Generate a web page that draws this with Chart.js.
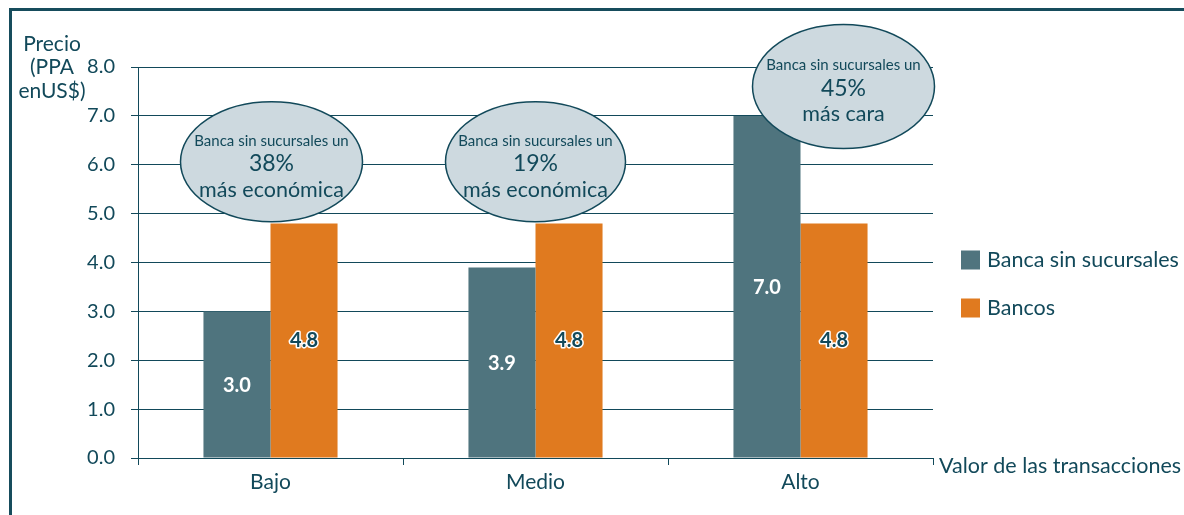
<!DOCTYPE html>
<html>
<head>
<meta charset="utf-8">
<script src="https://cdn.jsdelivr.net/npm/chart.js@4/dist/chart.umd.min.js"></script>
<style>
  html, body { margin: 0; padding: 0; background: #ffffff; }
  #wrap { width: 1184px; height: 515px; position: relative; }
  canvas { display: block; }
</style>
</head>
<body>
<div id="wrap"><canvas id="c" width="1184" height="515"></canvas></div>
<script>
// ---- Data ----
const categories = ["Bajo", "Medio", "Alto"];
const seriesNames = ["Banca sin sucursales", "Bancos"];
const branchlessValues = [3.0, 3.9, 7.0];
const bankValues = [4.8, 4.8, 4.8];
const yTickValues = [0, 1, 2, 3, 4, 5, 6, 7, 8];
const yTitleLines = ["Precio", "(PPA", "enUS$)"];
const xTitle = "Valor de las transacciones";
const calloutHead = ["Banca sin sucursales un", "Banca sin sucursales un", "Banca sin sucursales un"];
const calloutPct = ["38%", "19%", "45%"];
const calloutTail = ["más económica", "más económica", "más cara"];
const calloutAnchorValue = [6.06, 6.06, 7.6];

// ---- Style ----
const DARK = "#12495a";
const TEAL = "#4f747e";
const ORANGE = "#e07a1f";
const FONT = "Lato, 'Open Sans', sans-serif";
const calloutStyle = [
  { dx: 1, rx: 91, ry: 60 },
  { dx: 0, rx: 90, ry: 60 },
  { dx: 43, rx: 91, ry: 62 }
];

const decorPlugin = {
  id: "decor",
  beforeDraw(chart) {
    const ctx = chart.ctx;
    ctx.save();
    ctx.fillStyle = "#ffffff";
    ctx.fillRect(0, 0, chart.width, chart.height);
    ctx.restore();
  },
  afterDatasetsDraw(chart) {
    const ctx = chart.ctx;
    const xs = chart.scales.x, ys = chart.scales.y;
    ctx.save();
    // Callout ellipses
    categories.forEach((c, i) => {
      const st = calloutStyle[i];
      const cx = xs.getPixelForValue(i) + st.dx;
      const cy = ys.getPixelForValue(calloutAnchorValue[i]);
      ctx.beginPath();
      ctx.ellipse(cx, cy, st.rx, st.ry, 0, 0, Math.PI * 2);
      ctx.fillStyle = "#cdd9df";
      ctx.fill();
      ctx.lineWidth = 1.5;
      ctx.strokeStyle = DARK;
      ctx.stroke();
      ctx.fillStyle = DARK;
      ctx.textAlign = "center";
      ctx.textBaseline = "middle";
      ctx.font = "15px " + FONT;
      ctx.fillText(calloutHead[i], cx, cy - 21);
      ctx.font = "23px " + FONT;
      ctx.fillText(calloutPct[i], cx, cy + 2);
      ctx.font = "21.5px " + FONT;
      ctx.fillText(calloutTail[i], cx, cy + 28);
    });
    // Value labels
    chart.data.datasets.forEach((ds, di) => {
      const meta = chart.getDatasetMeta(di);
      meta.data.forEach((bar, i) => {
        const v = ds.data[i];
        const y = (bar.y + bar.base) / 2;
        ctx.font = "bold 20px " + FONT;
        ctx.textAlign = "center";
        ctx.textBaseline = "middle";
        const txt = v.toFixed(1);
        if (di === 0) {
          ctx.fillStyle = "#ffffff";
          ctx.fillText(txt, bar.x, y + 1);
        } else {
          ctx.lineJoin = "round";
          ctx.lineWidth = 3;
          ctx.strokeStyle = "#ffffff";
          ctx.strokeText(txt, bar.x, y);
          ctx.fillStyle = DARK;
          ctx.fillText(txt, bar.x, y);
        }
      });
    });
    ctx.restore();
  },
  afterDraw(chart) {
    const ctx = chart.ctx;
    const area = chart.chartArea;
    ctx.save();
    // Y-axis title
    ctx.fillStyle = DARK;
    ctx.font = "21px " + FONT;
    ctx.textAlign = "center";
    ctx.textBaseline = "middle";
    yTitleLines.forEach((t, i) => ctx.fillText(t, 52, 44 + i * 23.5));
    // X-axis title
    ctx.textAlign = "left";
    ctx.font = "21.5px " + FONT;
    ctx.fillText(xTitle, area.right + 6, area.bottom + 8);
    // Legend
    const colors = [TEAL, ORANGE];
    seriesNames.forEach((n, i) => {
      const y = 260 + i * 48;
      ctx.fillStyle = colors[i];
      ctx.fillRect(961, y - 9.5, 19, 19);
      ctx.fillStyle = DARK;
      ctx.font = "21.5px " + FONT;
      ctx.textAlign = "left";
      ctx.fillText(n, 987, y);
    });
    // Frame
    ctx.fillStyle = "#164c5c";
    ctx.fillRect(9, 8, chart.width - 9, 3);
    ctx.fillRect(9, 8, 3, chart.height - 8);
    ctx.restore();
  }
};

new Chart(document.getElementById("c"), {
  type: "bar",
  data: {
    labels: categories,
    datasets: [
      { label: seriesNames[0], data: branchlessValues, backgroundColor: TEAL },
      { label: seriesNames[1], data: bankValues, backgroundColor: ORANGE }
    ]
  },
  options: {
    responsive: false,
    animation: false,
    devicePixelRatio: 1,
    layout: { padding: { left: 0, right: 251, top: 67, bottom: 0 } },
    datasets: { bar: { categoryPercentage: 0.506, barPercentage: 1.0 } },
    plugins: { legend: { display: false }, tooltip: { enabled: false } },
    scales: {
      x: {
        offset: true,
        grid: { offset: true, drawOnChartArea: false, color: DARK, tickLength: 7, lineWidth: 1 },
        border: { color: DARK, width: 1 },
        ticks: { color: DARK, font: { family: FONT, size: 21 }, padding: 5 },
        afterFit(scale) { scale.height = 57; }
      },
      y: {
        min: 0, max: 8,
        afterBuildTicks(scale) { scale.ticks = yTickValues.map(v => ({ value: v })); },
        grid: { color: DARK, tickLength: 7, lineWidth: 1 },
        border: { color: DARK, width: 1 },
        ticks: {
          color: DARK, font: { family: FONT, size: 20 }, padding: 16,
          callback: v => Number(v).toFixed(1)
        },
        afterFit(scale) { scale.width = 138; }
      }
    }
  },
  plugins: [decorPlugin]
});
</script>
</body>
</html>
